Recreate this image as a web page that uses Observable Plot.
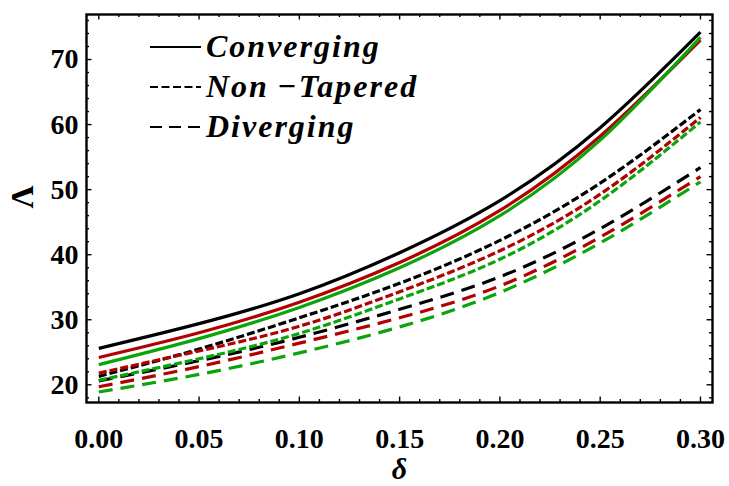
<!DOCTYPE html>
<html><head><meta charset="utf-8">
<script src="https://cdn.jsdelivr.net/npm/d3@7"></script>
<script src="https://cdn.jsdelivr.net/npm/@observablehq/plot@0.6"></script>
<style>body{margin:0;background:#fff} #chart{width:729px;height:486px}</style>
</head><body><div id="chart"></div>
<script>
// ---- data ----
const delta = [0, 0.05, 0.10, 0.15, 0.20, 0.25, 0.30];
const convergingBlack = [25.6, 29.4, 34.0, 40.3, 48.3, 59.5, 74.2];
const convergingRed   = [24.2, 28.0, 32.7, 38.8, 46.8, 58.2, 73.0];
const convergingGreen = [23.1, 27.1, 31.9, 38.0, 46.0, 57.6, 73.4];
const nonTaperedBlack = [21.3, 25.5, 30.3, 35.6, 42.2, 51.0, 62.3];
const nonTaperedRed   = [21.8, 25.2, 29.0, 34.3, 40.6, 49.3, 61.1];
const nonTaperedGreen = [20.7, 24.0, 27.9, 33.2, 39.3, 48.3, 60.4];
const divergingBlack  = [20.6, 23.7, 27.3, 31.6, 36.6, 44.0, 53.4];
const divergingRed    = [19.7, 22.8, 26.4, 30.3, 35.2, 42.7, 52.0];
const divergingGreen  = [18.9, 21.6, 24.9, 28.9, 34.2, 41.8, 51.2];
const xTicks = [0, 0.05, 0.10, 0.15, 0.20, 0.25, 0.30];
const yTicks = [20, 30, 40, 50, 60, 70];
const legendLabels = ["Converging", "Non\u2009\u2212Tapered", "Diverging"];

// ---- styling ----
const W = 729, H = 486;
const mTop = 14, mRight = 17, mBottom = 84, mLeft = 86;
const innerH = H - mTop - mBottom, innerW = W - mLeft - mRight;
const RED = "#b30000", GREEN = "#0aa50a", BLACK = "#000";
const DASH = {Converging: null, "Non-Tapered": "8,3", Diverging: "14,8"};

const series = [
  {shape: "Diverging", color: BLACK, values: divergingBlack},
  {shape: "Diverging", color: RED, values: divergingRed},
  {shape: "Diverging", color: GREEN, values: divergingGreen},
  {shape: "Non-Tapered", color: BLACK, values: nonTaperedBlack},
  {shape: "Non-Tapered", color: RED, values: nonTaperedRed},
  {shape: "Non-Tapered", color: GREEN, values: nonTaperedGreen},
  {shape: "Converging", color: BLACK, values: convergingBlack},
  {shape: "Converging", color: RED, values: convergingRed},
  {shape: "Converging", color: GREEN, values: convergingGreen}
];

const lineMarks = series.map(s => Plot.line(delta.map((d, i) => ({delta: d, value: s.values[i]})), {
  x: "delta", y: "value", stroke: s.color, strokeWidth: 3.2, strokeLinecap: "butt",
  strokeDasharray: DASH[s.shape] || undefined, curve: "natural"
}));

const xMinor = d3.range(0, 0.3001, 0.01).filter(v => Math.abs(v / 0.05 - Math.round(v / 0.05)) > 1e-6);
const yMinor = d3.range(18, 77, 2).filter(v => v % 10 !== 0);

const tickStyle = {stroke: BLACK, strokeWidth: 1.4};
const plot = Plot.plot({
  width: W, height: H,
  marginTop: mTop, marginRight: mRight, marginBottom: mBottom, marginLeft: mLeft,
  x: {domain: [-0.00613, 0.306]},
  y: {domain: [17.28, 76.92]},
  style: {fontFamily: "'Liberation Serif', serif", fontSize: "28px", fontWeight: "bold", background: "#fff", overflow: "visible"},
  marks: [
    ...lineMarks,
    // inward ticks on all four sides
    Plot.tickX(xTicks, {x: d => d, insetTop: innerH - 5.5, ...tickStyle}),
    Plot.tickX(xMinor, {x: d => d, insetTop: innerH - 3, ...tickStyle}),
    Plot.tickX(xTicks, {x: d => d, insetBottom: innerH - 5.5, ...tickStyle}),
    Plot.tickX(xMinor, {x: d => d, insetBottom: innerH - 3, ...tickStyle}),
    Plot.tickY(yTicks, {y: d => d, insetRight: innerW - 5.5, ...tickStyle}),
    Plot.tickY(yMinor, {y: d => d, insetRight: innerW - 3, ...tickStyle}),
    Plot.tickY(yTicks, {y: d => d, insetLeft: innerW - 5.5, ...tickStyle}),
    Plot.tickY(yMinor, {y: d => d, insetLeft: innerW - 3, ...tickStyle}),
    Plot.axisX(xTicks, {tickSize: 0, tickPadding: 26, tickFormat: d3.format(".2f"), label: null}),
    Plot.axisY(yTicks, {tickSize: 0, tickPadding: 8, label: null}),
    Plot.frame({stroke: BLACK, strokeWidth: 2.4}),
    Plot.text(["\u03b4"], {frameAnchor: "bottom", dy: 76, fontStyle: "italic", fontSize: 30}),
    Plot.text(["\u039b"], {frameAnchor: "left", dx: -64, rotate: -90, fontSize: 32})
  ]
});
document.getElementById("chart").appendChild(plot);

// ---- legend (inside the frame, top-left) ----
const svg = d3.select(plot);
const lg = svg.append("g").attr("class", "legend").attr("text-anchor", "start");
const legendDash = [null, "8,3.5", "12,7"];
legendLabels.forEach((label, i) => {
  const y = 47 + i * 40;
  lg.append("line").attr("x1", 150).attr("x2", 201).attr("y1", y).attr("y2", y)
    .attr("stroke", BLACK).attr("stroke-width", 2.2)
    .attr("stroke-dasharray", legendDash[i]);
  lg.append("text").attr("x", 206).attr("y", y + 10)
    .attr("text-anchor", "start")
    .attr("font-family", "'Liberation Serif', serif").attr("font-size", 32)
    .attr("font-weight", "bold").attr("font-style", "italic")
    .attr("letter-spacing", 2)
    .text(label);
});
</script>
</body></html>
